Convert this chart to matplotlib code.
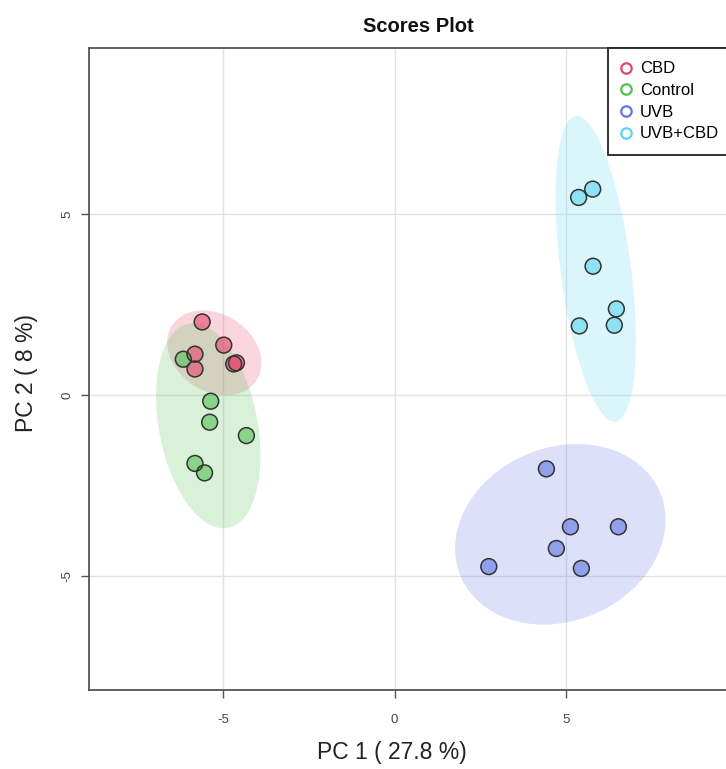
import numpy as np
import matplotlib
matplotlib.use("Agg")
import matplotlib.pyplot as plt
from matplotlib.patches import Ellipse
from matplotlib.lines import Line2D

plt.rcParams['font.family'] = ['Liberation Sans', 'DejaVu Sans']
plt.rcParams['axes.unicode_minus'] = False

groups = ["CBD", "Control", "UVB", "UVB+CBD"]
colors = ["#E8456A", "#52C152", "#6276E4", "#5CD6F0"]

cbd_pc1 = [-5.61, -4.98, -5.82, -5.82, -4.69, -4.61]
cbd_pc2 = [2.02, 1.38, 1.13, 0.72, 0.86, 0.89]
control_pc1 = [-6.16, -5.36, -5.39, -4.32, -5.82, -5.54]
control_pc2 = [0.99, -0.17, -0.75, -1.12, -1.89, -2.15]
uvb_pc1 = [4.43, 5.13, 6.53, 4.72, 2.75, 5.45]
uvb_pc2 = [-2.04, -3.64, -3.64, -4.24, -4.74, -4.79]
uvbcbd_pc1 = [5.78, 5.37, 5.79, 6.47, 6.41, 5.39]
uvbcbd_pc2 = [5.69, 5.46, 3.56, 2.38, 1.93, 1.91]

pc1 = [cbd_pc1, control_pc1, uvb_pc1, uvbcbd_pc1]
pc2 = [cbd_pc2, control_pc2, uvb_pc2, uvbcbd_pc2]

x_ticks = [-5, 0, 5]
y_ticks = [-5, 0, 5]

fig = plt.figure(figsize=(7.26, 7.69), dpi=100)
W, H = 726, 769
left, right, top, bottom = 89, 747, 48, 690
ax = fig.add_axes([left / W, 1 - bottom / H, (right - left) / W, (bottom - top) / H])
ax.set_xlim(-8.91, 10.28)
ax.set_ylim(-8.15, 9.59)

ax.set_xticks(x_ticks)
ax.set_yticks(y_ticks)
ax.grid(True, color="#E2E2E2", lw=1.0, zorder=0)
ax.set_axisbelow(True)

# 95% confidence ellipses from each group's covariance
chi = np.sqrt(5.991)
for xs, ys, c in zip(pc1, pc2, colors):
    xs = np.asarray(xs); ys = np.asarray(ys)
    cov = np.cov(xs, ys)
    vals, vecs = np.linalg.eigh(cov)
    order = vals.argsort()[::-1]
    vals, vecs = vals[order], vecs[:, order]
    angle = np.degrees(np.arctan2(vecs[1, 0], vecs[0, 0]))
    e = Ellipse((xs.mean(), ys.mean()), 2 * chi * np.sqrt(vals[0]),
                2 * chi * np.sqrt(vals[1]), angle=angle,
                facecolor=c, alpha=0.22, edgecolor="none", zorder=1)
    ax.add_patch(e)

for xs, ys, c in zip(pc1, pc2, colors):
    ax.scatter(xs, ys, s=130, facecolor=c, alpha=0.6, edgecolor="none", zorder=3)
    ax.scatter(xs, ys, s=130, facecolor="none", edgecolor="#333333",
               linewidth=1.1, zorder=4)

for side in ["top", "left", "bottom", "right"]:
    ax.spines[side].set_color("#555555")
    ax.spines[side].set_linewidth(1.3)

ax.tick_params(axis="both", length=6, width=1.0, color="#555555",
               labelcolor="#444444", labelsize=9.5)
ax.tick_params(axis="x", pad=11)
ax.tick_params(axis="y", pad=5)
for lab in ax.get_yticklabels():
    lab.set_rotation(90)
    lab.set_va("center")

fig.text(418 / W, 1 - 26 / H, "Scores Plot", ha="center", va="center",
         fontsize=14.5, fontweight="bold", color="#111111")
fig.text(392 / W, 1 - 752 / H, "PC 1 ( 27.8 %)", ha="center", va="center",
         fontsize=16.5, color="#222222")
fig.text(27 / W, 1 - 373 / H, "PC 2 ( 8 %)", ha="center", va="center",
         rotation=90, fontsize=16.5, color="#222222")

handles = [Line2D([], [], ls="none", marker="o", markersize=7.5,
                  markerfacecolor="none", markeredgecolor=c, markeredgewidth=1.6)
           for c in colors]
leg = ax.legend(handles, groups, loc="upper left",
                bbox_to_anchor=(608 / W, 1 - 48 / H), bbox_transform=fig.transFigure,
                frameon=True, fancybox=False, edgecolor="#222222", framealpha=1,
                fontsize=12, handlelength=0.5, handletextpad=0.6,
                labelspacing=0.4, borderpad=0.8, borderaxespad=0)
leg.get_frame().set_linewidth(1.3)

fig.savefig("out.png", dpi=100)
